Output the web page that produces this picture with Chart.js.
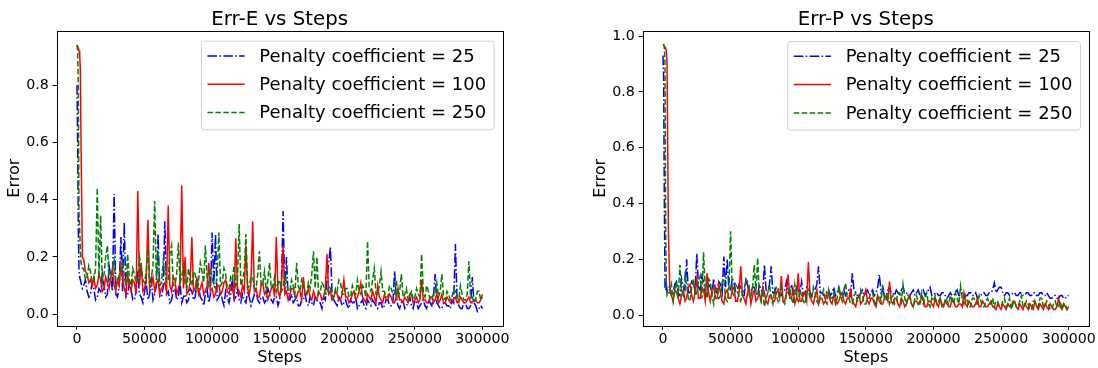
<!DOCTYPE html>
<html>
<head>
<meta charset="utf-8">
<script src="https://cdn.jsdelivr.net/npm/chart.js@4.4.0/dist/chart.umd.min.js"></script>
<style>
  html, body { margin: 0; padding: 0; background: #fff; }
  .panel { position: absolute; top: 0; width: 549px; height: 368px; }
  #left { left: 0; }
  #right { left: 549px; }
</style>
</head>
<body>
<div class="panel" id="left"><canvas id="errE" width="549" height="368"></canvas></div>
<div class="panel" id="right"><canvas id="errP" width="549" height="368"></canvas></div>
<script>
// logged training steps (dense at the start, then every 1250)
const steps = [0, 500, 1000, 1500, 2000, 2500, 3000, 4000,
  5000, 6250, 7500, 8750,
  10000, 11250, 12500, 13750, 15000, 16250, 17500, 18750,
  20000, 21250, 22500, 23750, 25000, 26250, 27500, 28750,
  30000, 31250, 32500, 33750, 35000, 36250, 37500, 38750,
  40000, 41250, 42500, 43750, 45000, 46250, 47500, 48750,
  50000, 51250, 52500, 53750, 55000, 56250, 57500, 58750,
  60000, 61250, 62500, 63750, 65000, 66250, 67500, 68750,
  70000, 71250, 72500, 73750, 75000, 76250, 77500, 78750,
  80000, 81250, 82500, 83750, 85000, 86250, 87500, 88750,
  90000, 91250, 92500, 93750, 95000, 96250, 97500, 98750,
  100000, 101250, 102500, 103750, 105000, 106250, 107500, 108750,
  110000, 111250, 112500, 113750, 115000, 116250, 117500, 118750,
  120000, 121250, 122500, 123750, 125000, 126250, 127500, 128750,
  130000, 131250, 132500, 133750, 135000, 136250, 137500, 138750,
  140000, 141250, 142500, 143750, 145000, 146250, 147500, 148750,
  150000, 151250, 152500, 153750, 155000, 156250, 157500, 158750,
  160000, 161250, 162500, 163750, 165000, 166250, 167500, 168750,
  170000, 171250, 172500, 173750, 175000, 176250, 177500, 178750,
  180000, 181250, 182500, 183750, 185000, 186250, 187500, 188750,
  190000, 191250, 192500, 193750, 195000, 196250, 197500, 198750,
  200000, 201250, 202500, 203750, 205000, 206250, 207500, 208750,
  210000, 211250, 212500, 213750, 215000, 216250, 217500, 218750,
  220000, 221250, 222500, 223750, 225000, 226250, 227500, 228750,
  230000, 231250, 232500, 233750, 235000, 236250, 237500, 238750,
  240000, 241250, 242500, 243750, 245000, 246250, 247500, 248750,
  250000, 251250, 252500, 253750, 255000, 256250, 257500, 258750,
  260000, 261250, 262500, 263750, 265000, 266250, 267500, 268750,
  270000, 271250, 272500, 273750, 275000, 276250, 277500, 278750,
  280000, 281250, 282500, 283750, 285000, 286250, 287500, 288750,
  290000, 291250, 292500, 293750, 295000, 296250, 297500, 298750,
  300000];

const seriesLabels = ['Penalty coefficient = 25', 'Penalty coefficient = 100', 'Penalty coefficient = 250'];

// Err-E
const errE25 = [0.80, 0.60, 0.30, 0.15, 0.13, 0.12, 0.11, 0.09,
  0.10, 0.12, 0.08, 0.06, 0.07, 0.11, 0.09, 0.05, 0.06, 0.09,
  0.08, 0.14, 0.10, 0.06, 0.07, 0.17, 0.13, 0.08, 0.42, 0.07,
  0.06, 0.10, 0.27, 0.08, 0.32, 0.06, 0.07, 0.11, 0.09, 0.05,
  0.05, 0.08, 0.15, 0.07, 0.06, 0.04, 0.08, 0.11, 0.05, 0.07,
  0.12, 0.05, 0.07, 0.10, 0.28, 0.06, 0.06, 0.09, 0.325, 0.07,
  0.08, 0.04, 0.05, 0.08, 0.09, 0.05, 0.06, 0.11, 0.04, 0.06,
  0.07, 0.04, 0.05, 0.09, 0.08, 0.05, 0.06, 0.12, 0.10, 0.06,
  0.05, 0.03, 0.07, 0.09, 0.04, 0.07, 0.285, 0.10, 0.28, 0.05,
  0.06, 0.08, 0.05, 0.03, 0.08, 0.06, 0.04, 0.07, 0.13, 0.05,
  0.06, 0.09, 0.05, 0.04, 0.07, 0.05, 0.04, 0.08, 0.06, 0.03,
  0.05, 0.07, 0.08, 0.05, 0.04, 0.06, 0.06, 0.04, 0.05, 0.09,
  0.07, 0.05, 0.04, 0.06, 0.06, 0.03, 0.05, 0.10, 0.36, 0.08,
  0.20, 0.06, 0.05, 0.07, 0.04, 0.05, 0.06, 0.03, 0.03, 0.05,
  0.05, 0.07, 0.04, 0.03, 0.06, 0.04, 0.03, 0.06, 0.05, 0.04,
  0.04, 0.02, 0.06, 0.05, 0.12, 0.18, 0.235, 0.07, 0.05, 0.04,
  0.03, 0.06, 0.05, 0.03, 0.04, 0.05, 0.03, 0.02, 0.05, 0.04,
  0.04, 0.06, 0.02, 0.03, 0.04, 0.05, 0.03, 0.02, 0.05, 0.04,
  0.03, 0.05, 0.04, 0.03, 0.02, 0.04, 0.04, 0.02, 0.03, 0.05,
  0.05, 0.03, 0.03, 0.04, 0.15, 0.06, 0.03, 0.02, 0.04, 0.05,
  0.02, 0.03, 0.04, 0.06, 0.03, 0.02, 0.05, 0.04, 0.02, 0.03,
  0.04, 0.05, 0.03, 0.02, 0.05, 0.04, 0.03, 0.06, 0.14, 0.04,
  0.03, 0.02, 0.02, 0.04, 0.04, 0.03, 0.03, 0.02, 0.05, 0.04,
  0.245, 0.05, 0.03, 0.02, 0.02, 0.04, 0.04, 0.02, 0.02, 0.03,
  0.13, 0.04, 0.03, 0.01, 0.02, 0.03,
  0.02];
const errE100 = [0.94, 0.935, 0.93, 0.92, 0.91, 0.85, 0.60, 0.20,
  0.19, 0.15, 0.14, 0.11, 0.12, 0.10, 0.13, 0.09, 0.10, 0.14,
  0.12, 0.08, 0.09, 0.13, 0.11, 0.09, 0.13, 0.16, 0.10, 0.08,
  0.12, 0.10, 0.17, 0.12, 0.09, 0.07, 0.14, 0.10, 0.08, 0.12,
  0.11, 0.07, 0.43, 0.10, 0.18, 0.08, 0.09, 0.12, 0.33, 0.09,
  0.10, 0.13, 0.08, 0.11, 0.12, 0.07, 0.09, 0.10, 0.11, 0.08,
  0.38, 0.10, 0.08, 0.13, 0.12, 0.07, 0.09, 0.11, 0.45, 0.09,
  0.20, 0.07, 0.08, 0.11, 0.27, 0.08, 0.09, 0.12, 0.07, 0.09,
  0.11, 0.07, 0.08, 0.10, 0.18, 0.08, 0.09, 0.06, 0.07, 0.10,
  0.10, 0.07, 0.08, 0.11, 0.12, 0.08, 0.07, 0.10, 0.09, 0.06,
  0.265, 0.09, 0.08, 0.06, 0.10, 0.08, 0.24, 0.09, 0.07, 0.11,
  0.325, 0.08, 0.09, 0.06, 0.06, 0.10, 0.11, 0.07, 0.08, 0.05,
  0.07, 0.09, 0.10, 0.06, 0.27, 0.08, 0.06, 0.10, 0.24, 0.07,
  0.08, 0.05, 0.07, 0.09, 0.09, 0.06, 0.06, 0.08, 0.08, 0.05,
  0.13, 0.07, 0.07, 0.09, 0.06, 0.05, 0.08, 0.06, 0.05, 0.08,
  0.07, 0.05, 0.06, 0.09, 0.21, 0.07, 0.08, 0.05, 0.06, 0.08,
  0.07, 0.05, 0.05, 0.07, 0.12, 0.06, 0.06, 0.04, 0.05, 0.07,
  0.08, 0.05, 0.06, 0.08, 0.11, 0.06, 0.05, 0.04, 0.07, 0.06,
  0.05, 0.08, 0.06, 0.04, 0.10, 0.06, 0.05, 0.04, 0.07, 0.05,
  0.05, 0.07, 0.06, 0.04, 0.04, 0.06, 0.09, 0.05, 0.05, 0.04,
  0.06, 0.05, 0.04, 0.07, 0.07, 0.04, 0.05, 0.06, 0.04, 0.05,
  0.12, 0.05, 0.05, 0.04, 0.04, 0.06, 0.06, 0.04, 0.05, 0.07,
  0.04, 0.05, 0.07, 0.04, 0.04, 0.06, 0.05, 0.04, 0.04, 0.05,
  0.06, 0.04, 0.04, 0.06, 0.05, 0.04, 0.04, 0.05, 0.06, 0.04,
  0.04, 0.05, 0.05, 0.04, 0.04, 0.05,
  0.07];
const errE250 = [0.94, 0.92, 0.80, 0.35, 0.30, 0.22, 0.18, 0.16,
  0.16, 0.12, 0.13, 0.17, 0.15, 0.11, 0.12, 0.16, 0.44, 0.13,
  0.345, 0.11, 0.14, 0.20, 0.24, 0.12, 0.12, 0.16, 0.19, 0.10,
  0.11, 0.14, 0.16, 0.19, 0.13, 0.10, 0.21, 0.12, 0.10, 0.16,
  0.14, 0.11, 0.12, 0.20, 0.17, 0.12, 0.11, 0.15, 0.23, 0.10,
  0.13, 0.17, 0.395, 0.12, 0.22, 0.10, 0.11, 0.18, 0.15, 0.11,
  0.12, 0.21, 0.24, 0.10, 0.10, 0.14, 0.25, 0.11, 0.13, 0.17,
  0.11, 0.09, 0.16, 0.12, 0.10, 0.15, 0.14, 0.09, 0.12, 0.18,
  0.15, 0.11, 0.24, 0.13, 0.10, 0.16, 0.13, 0.10, 0.09, 0.14,
  0.285, 0.10, 0.11, 0.16, 0.14, 0.09, 0.09, 0.13, 0.12, 0.17,
  0.10, 0.12, 0.315, 0.10, 0.12, 0.15, 0.28, 0.09, 0.10, 0.13,
  0.13, 0.09, 0.09, 0.14, 0.22, 0.10, 0.11, 0.15, 0.08, 0.12,
  0.18, 0.09, 0.10, 0.13, 0.08, 0.11, 0.12, 0.08, 0.09, 0.14,
  0.11, 0.08, 0.08, 0.12, 0.10, 0.07, 0.18, 0.10, 0.08, 0.12,
  0.10, 0.08, 0.07, 0.11, 0.09, 0.14, 0.22, 0.09, 0.20, 0.07,
  0.08, 0.11, 0.10, 0.07, 0.07, 0.10, 0.09, 0.06, 0.06, 0.09,
  0.08, 0.12, 0.11, 0.07, 0.07, 0.09, 0.09, 0.06, 0.06, 0.10,
  0.08, 0.07, 0.12, 0.08, 0.07, 0.10, 0.09, 0.06, 0.255, 0.09,
  0.08, 0.12, 0.16, 0.07, 0.07, 0.10, 0.15, 0.08, 0.08, 0.06,
  0.06, 0.10, 0.09, 0.07, 0.07, 0.12, 0.06, 0.08, 0.14, 0.06,
  0.07, 0.09, 0.05, 0.07, 0.08, 0.05, 0.06, 0.09, 0.07, 0.06,
  0.21, 0.08, 0.06, 0.10, 0.08, 0.05, 0.05, 0.07, 0.07, 0.11,
  0.06, 0.08, 0.14, 0.06, 0.05, 0.08, 0.07, 0.05, 0.06, 0.09,
  0.08, 0.06, 0.05, 0.10, 0.07, 0.05, 0.05, 0.07, 0.185, 0.06,
  0.06, 0.04, 0.05, 0.08, 0.08, 0.05,
  0.06];

// Err-P
const errP25 = [0.93, 0.85, 0.40, 0.10, 0.09, 0.11, 0.08, 0.10,
  0.10, 0.07, 0.08, 0.11, 0.12, 0.08, 0.07, 0.13, 0.10, 0.09,
  0.20, 0.08, 0.08, 0.12, 0.11, 0.09, 0.22, 0.10, 0.09, 0.14,
  0.12, 0.08, 0.07, 0.11, 0.10, 0.08, 0.13, 0.09, 0.08, 0.12,
  0.11, 0.08, 0.21, 0.10, 0.20, 0.09, 0.09, 0.13, 0.12, 0.08,
  0.08, 0.11, 0.10, 0.07, 0.07, 0.12, 0.11, 0.08, 0.08, 0.10,
  0.10, 0.08, 0.07, 0.11, 0.09, 0.08, 0.18, 0.09, 0.08, 0.11,
  0.175, 0.08, 0.08, 0.10, 0.10, 0.07, 0.07, 0.09, 0.09, 0.12,
  0.08, 0.07, 0.11, 0.08, 0.07, 0.10, 0.09, 0.08, 0.12, 0.07,
  0.08, 0.10, 0.10, 0.08, 0.07, 0.09, 0.09, 0.11, 0.175, 0.08,
  0.08, 0.07, 0.07, 0.09, 0.09, 0.07, 0.08, 0.10, 0.07, 0.08,
  0.10, 0.07, 0.08, 0.09, 0.07, 0.08, 0.09, 0.07, 0.15, 0.09,
  0.08, 0.07, 0.07, 0.08, 0.09, 0.07, 0.08, 0.09, 0.07, 0.08,
  0.09, 0.07, 0.08, 0.10, 0.145, 0.08, 0.09, 0.07, 0.07, 0.09,
  0.10, 0.08, 0.08, 0.07, 0.09, 0.08, 0.07, 0.09, 0.10, 0.08,
  0.08, 0.07, 0.07, 0.08, 0.09, 0.07, 0.08, 0.09, 0.07, 0.08,
  0.09, 0.07, 0.08, 0.09, 0.10, 0.07, 0.07, 0.08, 0.08, 0.07,
  0.07, 0.08, 0.08, 0.07, 0.06, 0.07, 0.08, 0.07, 0.07, 0.08,
  0.09, 0.07, 0.07, 0.08, 0.08, 0.07, 0.07, 0.08, 0.08, 0.07,
  0.07, 0.08, 0.06, 0.07, 0.07, 0.08, 0.08, 0.07, 0.07, 0.08,
  0.08, 0.09, 0.115, 0.08, 0.09, 0.10, 0.10, 0.08, 0.07, 0.08,
  0.08, 0.07, 0.07, 0.08, 0.08, 0.07, 0.07, 0.08, 0.08, 0.07,
  0.07, 0.08, 0.08, 0.07, 0.07, 0.08, 0.08, 0.07, 0.07, 0.08,
  0.08, 0.07, 0.07, 0.08, 0.07, 0.06, 0.06, 0.07, 0.07, 0.06,
  0.06, 0.07, 0.07, 0.06, 0.06, 0.07,
  0.07];
const errP100 = [0.97, 0.967, 0.963, 0.96, 0.955, 0.945, 0.90, 0.30,
  0.10, 0.07, 0.05, 0.09, 0.08, 0.06, 0.04, 0.07, 0.09, 0.05,
  0.06, 0.10, 0.11, 0.07, 0.05, 0.08, 0.13, 0.06, 0.06, 0.10,
  0.09, 0.05, 0.15, 0.08, 0.05, 0.09, 0.10, 0.06, 0.06, 0.11,
  0.08, 0.05, 0.04, 0.08, 0.09, 0.06, 0.06, 0.09, 0.10, 0.05,
  0.05, 0.08, 0.175, 0.07, 0.06, 0.04, 0.08, 0.10, 0.04, 0.07,
  0.09, 0.05, 0.06, 0.08, 0.05, 0.10, 0.08, 0.05, 0.04, 0.07,
  0.07, 0.05, 0.05, 0.08, 0.09, 0.06, 0.14, 0.05, 0.05, 0.08,
  0.145, 0.06, 0.06, 0.09, 0.04, 0.06, 0.15, 0.05, 0.05, 0.08,
  0.08, 0.05, 0.19, 0.07, 0.05, 0.04, 0.07, 0.09, 0.04, 0.06,
  0.06, 0.04, 0.05, 0.08, 0.08, 0.05, 0.04, 0.07, 0.06, 0.04,
  0.05, 0.07, 0.08, 0.05, 0.04, 0.06, 0.06, 0.09, 0.05, 0.04,
  0.03, 0.06, 0.07, 0.04, 0.05, 0.07, 0.09, 0.05, 0.04, 0.06,
  0.06, 0.04, 0.03, 0.07, 0.05, 0.04, 0.04, 0.06, 0.07, 0.05,
  0.12, 0.05, 0.04, 0.06, 0.06, 0.04, 0.03, 0.06, 0.05, 0.03,
  0.04, 0.06, 0.07, 0.04, 0.03, 0.05, 0.05, 0.04, 0.04, 0.07,
  0.06, 0.03, 0.03, 0.05, 0.05, 0.04, 0.03, 0.06, 0.04, 0.03,
  0.06, 0.04, 0.03, 0.05, 0.04, 0.03, 0.03, 0.06, 0.05, 0.03,
  0.03, 0.04, 0.04, 0.03, 0.08, 0.04, 0.03, 0.05, 0.04, 0.03,
  0.03, 0.04, 0.06, 0.03, 0.03, 0.05, 0.04, 0.03, 0.03, 0.04,
  0.05, 0.03, 0.03, 0.02, 0.04, 0.03, 0.02, 0.04, 0.03, 0.02,
  0.04, 0.03, 0.03, 0.05, 0.05, 0.03, 0.02, 0.04, 0.03, 0.02,
  0.04, 0.03, 0.02, 0.04, 0.03, 0.02, 0.05, 0.03, 0.02, 0.04,
  0.03, 0.02, 0.04, 0.03, 0.02, 0.04, 0.03, 0.02, 0.02, 0.03,
  0.06, 0.03, 0.02, 0.04, 0.03, 0.02,
  0.03];
const errP250 = [0.97, 0.97, 0.96, 0.90, 0.30, 0.10, 0.07, 0.08,
  0.08, 0.11, 0.05, 0.09, 0.12, 0.06, 0.18, 0.08, 0.07, 0.14,
  0.11, 0.06, 0.05, 0.10, 0.13, 0.07, 0.08, 0.12, 0.14, 0.06,
  0.225, 0.09, 0.06, 0.13, 0.12, 0.07, 0.04, 0.09, 0.10, 0.06,
  0.07, 0.12, 0.13, 0.06, 0.05, 0.09, 0.30, 0.08, 0.07, 0.11,
  0.10, 0.06, 0.05, 0.08, 0.09, 0.13, 0.12, 0.07, 0.06, 0.10,
  0.18, 0.08, 0.205, 0.07, 0.05, 0.09, 0.03, 0.06, 0.08, 0.11,
  0.06, 0.04, 0.09, 0.07, 0.05, 0.08, 0.10, 0.05, 0.04, 0.07,
  0.08, 0.10, 0.06, 0.04, 0.11, 0.07, 0.05, 0.09, 0.07, 0.05,
  0.04, 0.08, 0.09, 0.06, 0.06, 0.10, 0.08, 0.05, 0.04, 0.07,
  0.07, 0.09, 0.05, 0.04, 0.09, 0.06, 0.06, 0.08, 0.04, 0.06,
  0.10, 0.07, 0.05, 0.09, 0.115, 0.06, 0.06, 0.04, 0.04, 0.07,
  0.08, 0.05, 0.05, 0.09, 0.07, 0.04, 0.04, 0.06, 0.06, 0.08,
  0.08, 0.05, 0.04, 0.07, 0.07, 0.05, 0.11, 0.06, 0.05, 0.08,
  0.04, 0.06, 0.07, 0.04, 0.05, 0.08, 0.08, 0.05, 0.11, 0.06,
  0.04, 0.07, 0.06, 0.04, 0.03, 0.06, 0.07, 0.04, 0.05, 0.08,
  0.04, 0.06, 0.08, 0.04, 0.03, 0.06, 0.05, 0.07, 0.04, 0.05,
  0.06, 0.03, 0.03, 0.06, 0.05, 0.04, 0.07, 0.05, 0.04, 0.08,
  0.06, 0.04, 0.105, 0.06, 0.04, 0.07, 0.05, 0.03, 0.03, 0.06,
  0.06, 0.04, 0.04, 0.07, 0.05, 0.03, 0.03, 0.05, 0.06, 0.04,
  0.04, 0.06, 0.03, 0.05, 0.05, 0.03, 0.03, 0.05, 0.06, 0.03,
  0.04, 0.06, 0.02, 0.04, 0.05, 0.03, 0.03, 0.05, 0.07, 0.03,
  0.03, 0.05, 0.04, 0.02, 0.02, 0.05, 0.05, 0.03, 0.03, 0.06,
  0.06, 0.03, 0.03, 0.05, 0.04, 0.02, 0.02, 0.04, 0.05, 0.03,
  0.03, 0.05, 0.02, 0.04, 0.04, 0.02,
  0.03];

const xTicks = [0, 50000, 100000, 150000, 200000, 250000, 300000];
const yTicksE = [0, 0.2, 0.4, 0.6, 0.8];
const yTicksP = [0, 0.2, 0.4, 0.6, 0.8, 1.0];

const FONT = '"DejaVu Sans", "Liberation Sans", sans-serif';
Chart.defaults.font.family = FONT;
Chart.defaults.color = '#000';

const lineStyles = [
  { color: '#0000ff', dash: [9.6, 2.4, 1.5, 2.4] },
  { color: '#ff0000', dash: [] },
  { color: '#008000', dash: [5.55, 2.4] }
];

function toPoints(values) {
  return steps.map((s, i) => ({ x: s, y: values[i] }));
}

// title, axes frame and a matplotlib-like legend box
const decorPlugin = {
  id: 'decor',
  afterDraw(chart, args, opts) {
    const { ctx, chartArea: a } = chart;
    ctx.save();
    // frame
    ctx.strokeStyle = '#000';
    ctx.lineWidth = 1;
    const l = Math.round(a.left) + 0.5, r = Math.round(a.right) + 0.5;
    const t = Math.round(a.top) + 0.5, b = Math.round(a.bottom) + 0.5;
    ctx.strokeRect(l, t, r - l, b - t);

    // title
    ctx.font = '19.8px ' + FONT;
    ctx.fillStyle = '#000';
    ctx.textAlign = 'center';
    ctx.textBaseline = 'alphabetic';
    ctx.fillText(opts.text, (a.left + a.right) / 2, 24.5);

    // legend
    ctx.font = '18px ' + FONT;
    const textW = Math.max(...seriesLabels.map(s => ctx.measureText(s).width));
    const boxW = 58.4 + textW + 7.5;
    const boxH = 88.6;
    const boxX = a.right - 9 - boxW;
    const boxY = a.top + 10;
    ctx.beginPath();
    ctx.roundRect(boxX + 0.5, boxY + 0.5, boxW, boxH, 3);
    ctx.fillStyle = 'rgba(255,255,255,0.8)';
    ctx.fill();
    ctx.strokeStyle = '#d0d0d0';
    ctx.lineWidth = 1;
    ctx.stroke();

    seriesLabels.forEach((label, i) => {
      const yRow = boxY + 15.3 + i * 28.3;
      ctx.beginPath();
      ctx.setLineDash(lineStyles[i].dash);
      ctx.strokeStyle = lineStyles[i].color;
      ctx.lineWidth = 1.5;
      ctx.moveTo(boxX + 6.5, yRow);
      ctx.lineTo(boxX + 43.7, yRow);
      ctx.stroke();
      ctx.setLineDash([]);
      ctx.fillStyle = '#000';
      ctx.textAlign = 'left';
      ctx.textBaseline = 'middle';
      ctx.fillText(label, boxX + 58.4, yRow + 1);
    });
    ctx.restore();
  }
};

function makeChart(id, title, seriesValues, yMin, yMax, yTicks, layout) {
  return new Chart(document.getElementById(id), {
    type: 'line',
    data: {
      datasets: seriesValues.map((vals, i) => ({
        label: seriesLabels[i],
        data: toPoints(vals),
        borderColor: lineStyles[i].color,
        borderDash: lineStyles[i].dash,
        borderWidth: 1.5,
        pointRadius: 0,
        tension: 0,
        fill: false,
        order: 3 - i
      }))
    },
    options: {
      responsive: false,
      animation: false,
      events: [],
      layout: { padding: { left: 0, right: layout.padRight, top: layout.padTop, bottom: 0 } },
      plugins: {
        legend: { display: false },
        title: { display: false },
        tooltip: { enabled: false },
        decor: { text: title }
      },
      scales: {
        x: {
          type: 'linear',
          min: -15000,
          max: 315000,
          afterBuildTicks: ax => { ax.ticks = xTicks.map(v => ({ value: v })); },
          afterFit: ax => { ax.height = layout.xHeight; },
          ticks: { callback: v => String(v), font: { size: 14.2 }, color: '#000', padding: 1.5, maxRotation: 0, autoSkip: false },
          grid: { drawOnChartArea: false, drawTicks: true, tickLength: 4, color: '#000' },
          border: { display: false },
          title: { display: true, text: 'Steps', font: { size: 16 }, color: '#000', padding: { top: 0, bottom: 0.5 } }
        },
        y: {
          type: 'linear',
          min: yMin,
          max: yMax,
          afterBuildTicks: ax => { ax.ticks = yTicks.map(v => ({ value: v })); },
          afterFit: ax => { ax.width = layout.yWidth; },
          ticks: { callback: v => v.toFixed(1), font: { size: 14.2 }, color: '#000', padding: 4, autoSkip: false },
          grid: { drawOnChartArea: false, drawTicks: true, tickLength: 4, color: '#000' },
          border: { display: false },
          title: { display: true, text: 'Error', font: { size: 16 }, color: '#000', padding: { top: layout.yTitlePad, bottom: 0 } }
        }
      }
    },
    plugins: [decorPlugin]
  });
}

makeChart('errE', 'Err-E vs Steps', [errE25, errE100, errE250], -0.04, 0.99, yTicksE,
  { padRight: 46.3, padTop: 30.7, xHeight: 42.3, yWidth: 56.7, yTitlePad: 5.4 });
makeChart('errP', 'Err-P vs Steps', [errP25, errP100, errP250], -0.038, 1.018, yTicksP,
  { padRight: 9, padTop: 31, xHeight: 42.3, yWidth: 93.7, yTitlePad: 42.1 });
</script>
</body>
</html>
